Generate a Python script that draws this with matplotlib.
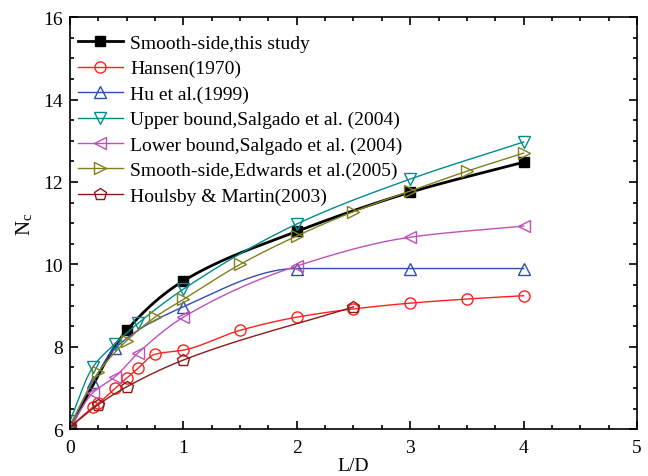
import numpy as np
import matplotlib
matplotlib.use("Agg")
import matplotlib.pyplot as plt
from matplotlib.ticker import MultipleLocator

# Дані (L/D -> Nc)
study_x = [0, 0.5, 1, 2, 3, 4]
study_y = [6.05, 8.40, 9.60, 10.80, 11.75, 12.48]

hansen_x = [0, 0.2, 0.25, 0.4, 0.5, 0.6, 0.75, 1, 1.5, 2, 2.5, 3, 3.5, 4]
hansen_y = [6.05, 6.53, 6.63, 7.0, 7.24, 7.48, 7.82, 7.92, 8.40, 8.72, 8.92, 9.06, 9.16, 9.24]

hu_x = [0, 0.2, 0.4, 1, 2, 3, 4]
hu_y = [6.05, 7.14, 7.97, 8.97, 9.90, 9.90, 9.90]

upper_x = [0, 0.2, 0.4, 0.6, 1, 2, 3, 4]
upper_y = [6.2, 7.50, 8.08, 8.57, 9.40, 10.98, 12.07, 12.97]

lower_x = [0, 0.2, 0.4, 0.6, 1, 2, 3, 4]
lower_y = [6.05, 6.88, 7.28, 7.85, 8.72, 9.96, 10.66, 10.93]

edwards_x = [0, 0.25, 0.5, 0.75, 1, 1.5, 2, 2.5, 3, 3.5, 4]
edwards_y = [6.1, 7.38, 8.15, 8.72, 9.15, 10.0, 10.69, 11.28, 11.78, 12.26, 12.70]

houlsby_x = [0, 0.25, 0.5, 1, 2.5]
houlsby_y = [6.05, 6.60, 7.03, 7.68, 8.97]


def pchip(x, y, n=200):
    # монотонна кубічна інтерполяція для плавної лінії
    x = np.asarray(x, float)
    y = np.asarray(y, float)
    h = np.diff(x)
    d = np.diff(y) / h
    m = np.zeros_like(y)
    for k in range(1, len(x) - 1):
        if d[k - 1] * d[k] > 0:
            w1 = 2 * h[k] + h[k - 1]
            w2 = h[k] + 2 * h[k - 1]
            m[k] = (w1 + w2) / (w1 / d[k - 1] + w2 / d[k])
    m[0] = d[0]
    m[-1] = d[-1]
    xs = np.linspace(x[0], x[-1], n)
    idx = np.clip(np.searchsorted(x, xs) - 1, 0, len(x) - 2)
    t = (xs - x[idx]) / h[idx]
    h00 = 2 * t**3 - 3 * t**2 + 1
    h10 = t**3 - 2 * t**2 + t
    h01 = -2 * t**3 + 3 * t**2
    h11 = t**3 - t**2
    ys = (h00 * y[idx] + h10 * h[idx] * m[idx]
          + h01 * y[idx + 1] + h11 * h[idx] * m[idx + 1])
    return xs, ys


plt.rcParams["font.family"] = ["Liberation Serif", "DejaVu Serif"]
plt.rcParams["mathtext.fontset"] = "stix"

fig = plt.figure(figsize=(6.48, 4.77), dpi=100)
ax = fig.add_axes([0.108, 0.098, 0.875, 0.864])

series = [
    (study_x, study_y, "Smooth-side,this study", "black", "s", 2.0, True, 7),
    (hansen_x, hansen_y, "Hansen(1970)", "#FF2020", "o", 1.0, False, 8),
    (hu_x, hu_y, "Hu et al.(1999)", "#2F4FB0", "^", 1.0, False, 8),
    (upper_x, upper_y, "Upper bound,Salgado et al. (2004)", "#008C8C", "v", 1.0, False, 8),
    (lower_x, lower_y, "Lower bound,Salgado et al. (2004)", "#C050B8", "<", 1.0, False, 8),
    (edwards_x, edwards_y, "Smooth-side,Edwards et al.(2005)", "#808020", ">", 1.0, False, 8),
    (houlsby_x, houlsby_y, "Houlsby & Martin(2003)", "#8B1A1A", "p", 1.0, False, 9),
]

for x, y, label, color, marker, lw, filled, ms in series:
    xs, ys = pchip(x, y)
    ax.plot(xs, ys, color=color, linewidth=lw)
    ax.plot(x, y, linestyle="none", marker=marker, markersize=ms,
            markerfacecolor=color if filled else "none",
            markeredgecolor=color, markeredgewidth=1.0)
    # елемент легенди: лінія з маркером
    ax.plot([], [], color=color, linewidth=lw, marker=marker, markersize=ms,
            markerfacecolor=color if filled else "none",
            markeredgecolor=color, label=label)

ax.set_xlim(0, 5)
ax.set_ylim(6, 16)
ax.xaxis.set_major_locator(MultipleLocator(1))
ax.xaxis.set_minor_locator(MultipleLocator(0.25))
ax.yaxis.set_major_locator(MultipleLocator(2))
ax.yaxis.set_minor_locator(MultipleLocator(0.5))
ax.tick_params(which="both", direction="in", top=True, right=True,
               labelsize=14, width=1.2)
ax.tick_params(which="major", length=6)
ax.tick_params(which="minor", length=3)
ax.tick_params(axis="x", pad=7)
ax.tick_params(axis="y", pad=5)
for sp in ax.spines.values():
    sp.set_linewidth(1.2)

ax.set_xlabel("L/D", fontsize=14, labelpad=1)
ax.set_ylabel("N$_\\mathregular{c}$", fontsize=15, labelpad=6)

ax.legend(loc="upper left", bbox_to_anchor=(0.014, 0.958), frameon=False,
          fontsize=14, handlelength=2.3, handletextpad=0.4, labelspacing=0.4,
          borderaxespad=0, borderpad=0)

fig.savefig("out.png", dpi=100)
